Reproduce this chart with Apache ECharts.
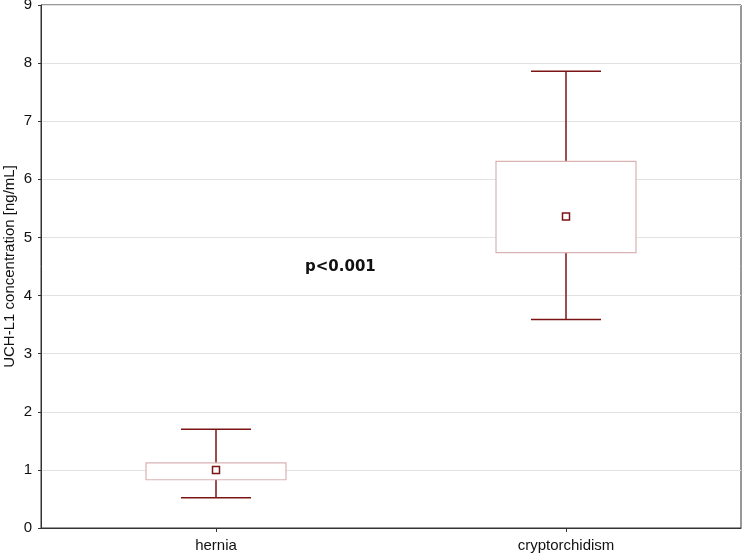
<!DOCTYPE html>
<html>
<head>
<meta charset="utf-8">
<script src="https://cdn.jsdelivr.net/npm/echarts@6/dist/echarts.min.js"></script>
<style>html,body{margin:0;padding:0;background:#fff;}#c{width:745px;height:555px;}</style>
</head>
<body>
<div id="c"></div>
<script>
var categories = ['hernia', 'cryptorchidism'];
var meanValues = [1.0, 5.36];
var boxLow = [0.83, 4.74];
var boxHigh = [1.12, 6.31];
var whiskerLow = [0.52, 3.59];
var whiskerHigh = [1.7, 7.86];
var yTicks = [0, 1, 2, 3, 4, 5, 6, 7, 8, 9];

var data = categories.map(function (c, i) {
  return [i, whiskerLow[i], boxLow[i], meanValues[i], boxHigh[i], whiskerHigh[i]];
});

var whiskerColor = '#7b1414';
var boxColor = '#d9b2b4';

var chart = echarts.init(document.getElementById('c'), null, {renderer: 'canvas'});
chart.setOption({
  animation: false,
  backgroundColor: '#fff',
  grid: {left: 41, top: 5, right: 4, bottom: 27, show: true, borderColor: '#333', borderWidth: 1, backgroundColor: 'transparent', containLabel: false, outerBoundsMode: 'none'},
  xAxis: {
    type: 'category',
    data: categories,
    boundaryGap: true,
    axisLine: {show: true, lineStyle: {color: '#333', width: 1}},
    axisTick: {show: true, alignWithLabel: true, length: 4, lineStyle: {color: '#333'}},
    axisLabel: {color: '#111', fontSize: 15, fontFamily: 'Liberation Sans, Arial, sans-serif', margin: 10},
    splitLine: {show: false}
  },
  yAxis: {
    type: 'value',
    min: yTicks[0],
    max: yTicks[yTicks.length - 1],
    interval: 1,
    name: 'UCH-L1 concentration [ng/mL]',
    nameLocation: 'middle',
    nameGap: 24,
    nameMoveOverlap: false,
    nameTextStyle: {color: '#111', fontSize: 15, fontFamily: 'Liberation Sans, Arial, sans-serif'},
    axisLine: {show: true, lineStyle: {color: '#333', width: 1}},
    axisTick: {show: true, length: 3, lineStyle: {color: '#333'}},
    axisLabel: {color: '#111', fontSize: 15, fontFamily: 'Liberation Sans, Arial, sans-serif', margin: 9},
    splitLine: {show: true, lineStyle: {color: '#e2e2e2', width: 1}}
  },
  series: [{
    type: 'custom',
    data: data,
    clip: false,
    encode: {x: 0, y: [1, 2, 3, 4, 5]},
    renderItem: function (params, api) {
      var idx = api.value(0);
      var band = api.size([1, 0])[0];
      var bw = band * 0.4;
      var cw = band * 0.2;
      var pWL = api.coord([idx, api.value(1)]);
      var pBL = api.coord([idx, api.value(2)]);
      var pM = api.coord([idx, api.value(3)]);
      var pBH = api.coord([idx, api.value(4)]);
      var pWH = api.coord([idx, api.value(5)]);
      var x = pM[0];
      var ls = {stroke: whiskerColor, lineWidth: 1.5};
      return {
        type: 'group',
        children: [
          {type: 'line', shape: {x1: x, y1: pWH[1], x2: x, y2: pBH[1]}, style: ls},
          {type: 'line', shape: {x1: x, y1: pBL[1], x2: x, y2: pWL[1]}, style: ls},
          {type: 'line', shape: {x1: x - cw / 2, y1: pWH[1], x2: x + cw / 2, y2: pWH[1]}, style: ls},
          {type: 'line', shape: {x1: x - cw / 2, y1: pWL[1], x2: x + cw / 2, y2: pWL[1]}, style: ls},
          {type: 'rect', shape: {x: x - bw / 2, y: pBH[1], width: bw, height: pBL[1] - pBH[1]}, style: {fill: '#fff', stroke: boxColor, lineWidth: 1.2}},
          {type: 'rect', shape: {x: x - 3.5, y: pM[1] - 3.5, width: 7, height: 7}, style: {fill: '#fff', stroke: whiskerColor, lineWidth: 1.5}}
        ]
      };
    }
  }],
  graphic: [{
    type: 'text',
    left: 305,
    top: 260,
    style: {text: 'p<0.001', fill: '#111', font: 'bold 15px "DejaVu Sans", sans-serif'}
  }]
});
</script>
</body>
</html>
